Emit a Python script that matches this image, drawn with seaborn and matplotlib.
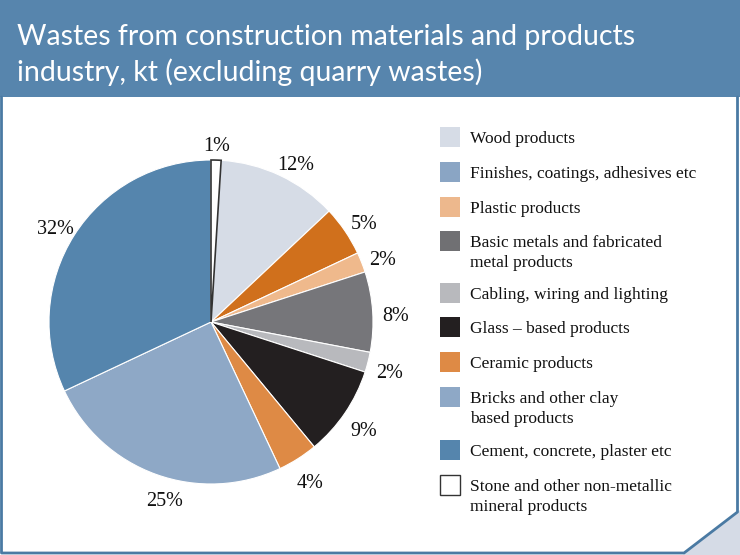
import numpy as np
import matplotlib.pyplot as plt
import matplotlib.patches as mpatches
import seaborn as sns

# Pie slices, clockwise from 12 o'clock
categories = ['Stone and other non-metallic\nmineral products', 'Wood products',
              'Finishes, coatings, adhesives etc', 'Plastic products',
              'Basic metals and fabricated\nmetal products', 'Cabling, wiring and lighting',
              'Glass \u2013 based products', 'Ceramic products',
              'Bricks and other clay\nbased products', 'Cement, concrete, plaster etc']
shares = [1, 12, 5, 2, 8, 2, 9, 4, 25, 32]
slice_colors = ['#ffffff', '#d6dce6', '#d0701c', '#efb98c', '#76767a',
                '#b8b9bd', '#231f20', '#de8a45', '#8ea8c6', '#5585ad']

# Legend order and the swatch colours as printed in the legend
legend_labels = ['Wood products', 'Finishes, coatings, adhesives etc', 'Plastic products',
                 'Basic metals and fabricated\nmetal products', 'Cabling, wiring and lighting',
                 'Glass \u2013 based products', 'Ceramic products',
                 'Bricks and other clay\nbased products', 'Cement, concrete, plaster etc',
                 'Stone and other non-metallic\nmineral products']
legend_colors = ['#d6dce6', '#8aa5c4', '#edb88d', '#707073', '#b8b9bd',
                 '#231f20', '#de8a45', '#8ea8c6', '#5585ad', '#ffffff']
legend_rows_px = [137, 172, 207, 241, 293, 327, 362, 397, 450, 485]

title = 'Wastes from construction materials and products\nindustry, kt (excluding quarry wastes)'

sns.set_theme(style='white')
W, H = 740, 555
fig = plt.figure(figsize=(W / 100, H / 100), dpi=100)

def fx(px):
    return px / W

def fy(py):
    return 1 - py / H

# header band and frame
header_blue = '#5785ad'
fig.patches.append(mpatches.Rectangle((0, fy(97)), 1, 97 / H, transform=fig.transFigure,
                                      facecolor=header_blue, edgecolor='none', zorder=0))
fig.patches.append(mpatches.Polygon([(fx(683), 0), (1, 0), (1, fy(510))], closed=True,
                                    transform=fig.transFigure, facecolor='#d5dbe6',
                                    edgecolor='none', zorder=0))
frame = [(fx(1.5), fy(97)), (fx(1.5), fy(553)), (fx(684), fy(553)),
         (fx(737.5), fy(512)), (fx(737.5), fy(97))]
fig.lines.append(plt.Line2D([p[0] for p in frame], [p[1] for p in frame],
                            transform=fig.transFigure, color='#4a7aa3', lw=2))

fig.text(fx(17), fy(45), title.split('\n')[0], color='white', fontsize=20.5,
         family='Lato', ha='left', va='baseline')
fig.text(fx(17), fy(81), title.split('\n')[1], color='white', fontsize=20.5,
         family='Lato', ha='left', va='baseline')

# pie
R = 162
cx, cy = 211, 322
lim = 1.3
ax = fig.add_axes([fx(cx - lim * R), fy(cy + lim * R), 2 * lim * R / W, 2 * lim * R / H])
wedges, _, autotexts = ax.pie(shares, colors=slice_colors, startangle=90, counterclock=False,
                              autopct='%d%%', pctdistance=1.14,
                              wedgeprops=dict(edgecolor='white', linewidth=0.8),
                              textprops=dict(family='Liberation Serif', fontsize=14.5,
                                             color='#111111'))
wedges[0].set_edgecolor('#333333')
wedges[0].set_linewidth(1.2)
wedges[0].set_zorder(3)

# small nudges so the labels sit where the original puts them
nudge = {0: (0.0, -0.02), 1: (0.04, -0.03), 8: (0.1, 0.0)}
for i, t in enumerate(autotexts):
    x, y = t.get_position()
    dx, dy = nudge.get(i, (0.0, 0.0))
    t.set_position((x + dx, y + dy - 0.037))

ax.set_xlim(-lim, lim)
ax.set_ylim(-lim, lim)
ax.set_aspect('equal')
ax.axis('off')

# legend
for lab, col, row in zip(legend_labels, legend_colors, legend_rows_px):
    fig.patches.append(mpatches.Rectangle((fx(440), fy(row + 10)), 20 / W, 20 / H,
                                          transform=fig.transFigure, facecolor=col,
                                          edgecolor='#333333' if col == '#ffffff' else 'none',
                                          lw=1))
    for k, line in enumerate(lab.split('\n')):
        fig.text(fx(470), fy(row + 20 * k), line, family='Liberation Serif', fontsize=12.5,
                 color='#111111', ha='left', va='center_baseline')

fig.savefig('out.png', dpi=100)
